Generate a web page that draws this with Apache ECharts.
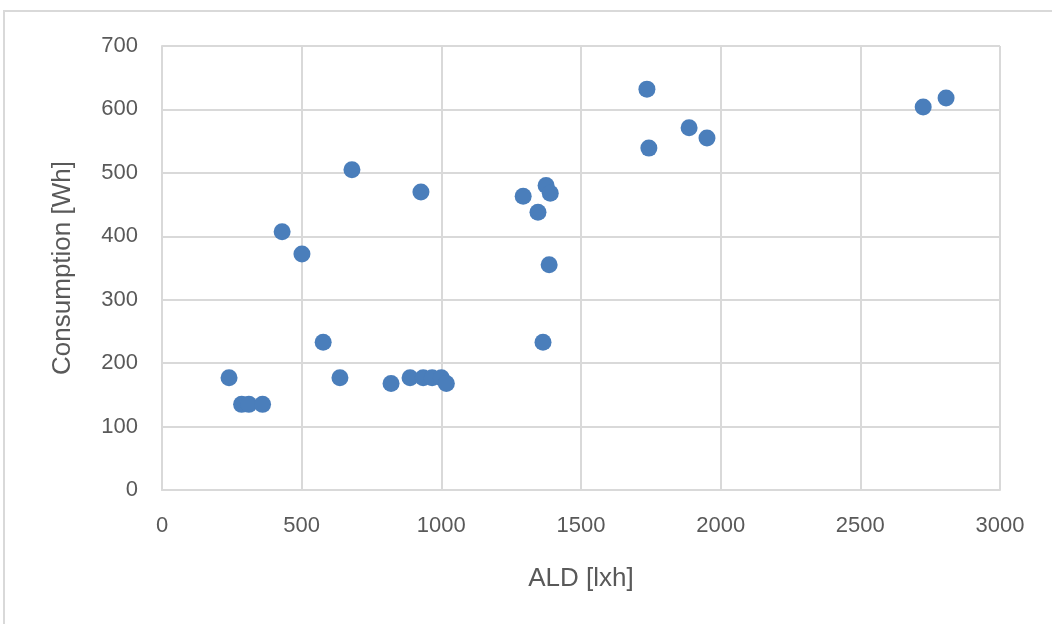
<!DOCTYPE html>
<html>
<head>
<meta charset="utf-8">
<title>Consumption vs ALD</title>
<script src="https://cdn.jsdelivr.net/npm/echarts@6/dist/echarts.min.js"></script>
<style>
  html, body { margin: 0; padding: 0; background: #fff; }
  #main { width: 1052px; height: 624px; }
</style>
</head>
<body>
<div id="main"></div>
<script type="text/javascript">
// ALD [lxh] values
var ald = [240, 285, 311, 360, 430, 501, 577, 637, 680, 820, 888, 935, 967, 1000, 1018,
           927, 1293, 1346, 1375, 1390, 1386, 1364, 1736, 1743, 1887, 1951, 2725, 2807];
// Consumption [Wh]
var consumption = [177, 135, 135, 135, 407, 372, 233, 177, 505, 168, 177, 177, 177, 177, 168,
                   470, 463, 438, 480, 468, 355, 233, 632, 539, 571, 555, 604, 618];

var points = [];
for (var i = 0; i < ald.length; i++) {
    points.push([ald[i], consumption[i]]);
}

var myChart = echarts.init(document.getElementById('main'));
var gridColor = '#d9d9d9';
var textColor = '#595959';
var font = 'Liberation Sans';

var option = {
    backgroundColor: '#fff',
    animation: false,
    graphic: [{
        type: 'rect',
        shape: { x: 4, y: 11, width: 1100, height: 700 },
        style: { fill: 'none', stroke: gridColor, lineWidth: 2 },
        silent: true
    }],
    grid: {
        left: 162,
        right: 52,
        top: 46,
        bottom: 134
    },
    xAxis: {
        type: 'value',
        min: 0,
        max: 3000,
        interval: 500,
        name: 'ALD [lxh]',
        nameLocation: 'middle',
        nameGap: 76,
        nameTextStyle: { color: textColor, fontSize: 26, fontFamily: font },
        axisLine: { show: true, lineStyle: { color: gridColor, width: 2 } },
        axisTick: { show: false },
        axisLabel: {
            color: textColor, fontSize: 22, fontFamily: font, margin: 25,
            formatter: function (v) { return String(v); }
        },
        splitLine: { show: true, lineStyle: { color: gridColor, width: 2 } }
    },
    yAxis: {
        type: 'value',
        min: 0,
        max: 700,
        interval: 100,
        name: 'Consumption [Wh]',
        nameLocation: 'middle',
        nameGap: 86,
        nameRotate: 90,
        nameTextStyle: { color: textColor, fontSize: 26, fontFamily: font },
        axisLine: { show: true, lineStyle: { color: gridColor, width: 2 } },
        axisTick: { show: false },
        axisLabel: { color: textColor, fontSize: 22, fontFamily: font, margin: 24 },
        splitLine: { show: true, lineStyle: { color: gridColor, width: 2 } }
    },
    series: [{
        type: 'scatter',
        data: points,
        symbol: 'circle',
        symbolSize: 17,
        itemStyle: { color: '#4a7ebb', opacity: 1 }
    }]
};
myChart.setOption(option);
</script>
</body>
</html>
